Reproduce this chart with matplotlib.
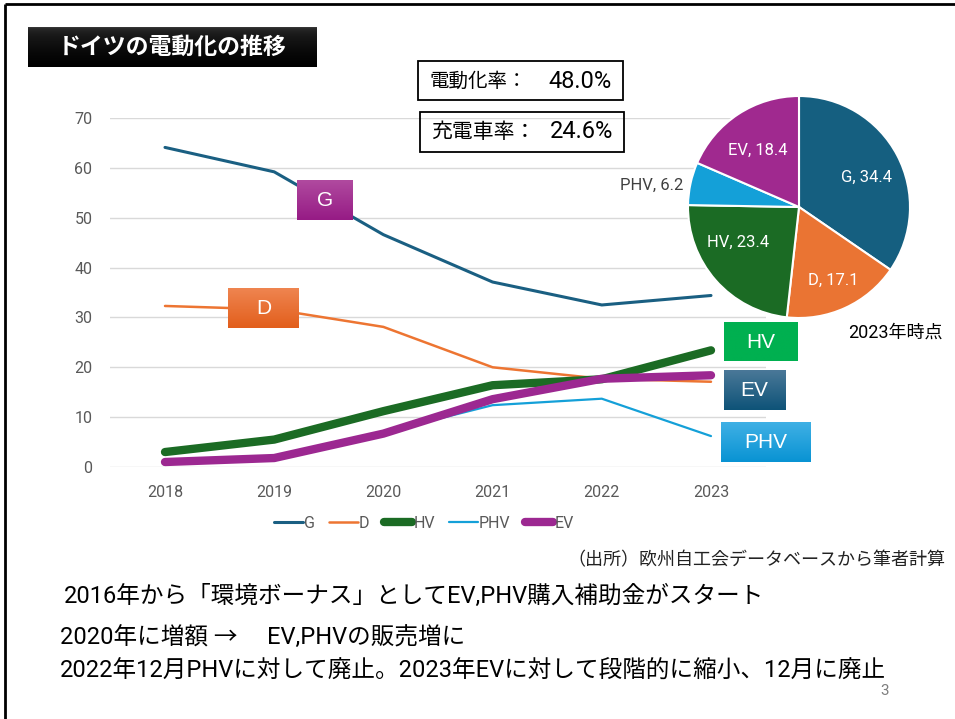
import matplotlib
matplotlib.use("Agg")
import matplotlib.pyplot as plt
import numpy as np
from matplotlib.colors import to_rgb
from matplotlib.patches import Rectangle

# ---------------- data ----------------
years = [2018, 2019, 2020, 2021, 2022, 2023]
series_names = ["G", "D", "HV", "PHV", "EV"]
g_vals = [64.1, 59.2, 46.6, 37.1, 32.5, 34.4]
d_vals = [32.3, 31.6, 28.1, 20.0, 17.7, 17.1]
hv_vals = [3.0, 5.5, 11.2, 16.4, 17.6, 23.4]
phv_vals = [0.9, 1.3, 6.9, 12.4, 13.7, 6.2]
ev_vals = [1.0, 1.8, 6.7, 13.6, 17.7, 18.4]

pie_labels = ["G", "D", "HV", "PHV", "EV"]
pie_vals = [34.4, 17.1, 23.4, 6.2, 18.4]

yticks = [0, 10, 20, 30, 40, 50, 60, 70]

title = "ドイツの電動化の推移"
rate1_label, rate1_val = "電動化率：", "48.0%"
rate2_label, rate2_val = "充電車率：", "24.6%"
pie_note = "2023年時点"
source = "（出所）欧州自工会データベースから筆者計算"
notes = ["2016年から「環境ボーナス」としてEV,PHV購入補助金がスタート",
         "2020年に増額 →　 EV,PHVの販売増に",
         "2022年12月PHVに対して廃止。2023年EVに対して段階的に縮小、12月に廃止"]
page_no = "3"

# ---------------- style ----------------
line_colors = ["#1a5f82", "#ed7532", "#1b6b24", "#14a0d8", "#9c2891"]
line_widths = [2.2, 1.8, 6.0, 1.6, 6.0]
pie_colors = ["#155f80", "#ea7433", "#1b6b24", "#14a0d8", "#a0298f"]

JP = ["Noto Sans CJK JP", "DejaVu Sans"]
LAT = ["Roboto", "Noto Sans CJK JP", "DejaVu Sans"]
plt.rcParams["font.family"] = LAT

W, H = 955, 719
fig = plt.figure(figsize=(W / 100, H / 100), dpi=100)
fig.patch.set_facecolor("white")

def fx(px):
    return px / W

def fy(py):
    return 1 - py / H

# ---------------- line chart ----------------
ax = fig.add_axes([fx(110.4), fy(467), fx(765.6) - fx(110.4), fy(118) - fy(467)])
all_vals = [g_vals, d_vals, hv_vals, phv_vals, ev_vals]
for name, vals, c, lw in zip(series_names, all_vals, line_colors, line_widths):
    ax.plot(years, vals, color=c, lw=lw, label=name, solid_capstyle="round",
            solid_joinstyle="round")
ax.set_xlim(2017.5, 2023.5)
ax.set_ylim(0, 70)
ax.set_xticks(years)
ax.set_yticks(yticks)
ax.grid(axis="y", color="#d9d9d9", lw=1.0)
ax.set_axisbelow(True)
for s in ax.spines.values():
    s.set_visible(False)
ax.tick_params(axis="both", length=0, labelsize=11.5, labelcolor="#595959")
ax.tick_params(axis="x", pad=13)
ax.tick_params(axis="y", pad=13)

leg = fig.legend(loc="center", bbox_to_anchor=(fx(424), fy(523)), ncol=5,
                 frameon=False, fontsize=11.5, handlelength=1.8,
                 handletextpad=0.05, columnspacing=0.9)
for t in leg.get_texts():
    t.set_color("#595959")

# ---------------- pie ----------------
R = 111
cx, cy = 799, 207
pax = fig.add_axes([fx(cx - R), fy(cy + R), fx(2 * R), fy(0) - fy(2 * R)])
wedges, texts = pax.pie(pie_vals, colors=pie_colors, startangle=90, counterclock=False,
                        labels=[f"{l}, {v}" for l, v in zip(pie_labels, pie_vals)],
                        labeldistance=0.65,
                        wedgeprops=dict(edgecolor="white", linewidth=1.5),
                        textprops=dict(fontsize=12, color="white"))
pax.set_xlim(-1, 1)
pax.set_ylim(-1, 1)
pax.set_aspect("equal")
pax.axis("off")
label_pos = {"G": (67, -30), "D": (34, 73), "HV": (-61, 35), "PHV": (-116, -22), "EV": (-41, -57)}
for t, l in zip(texts, pie_labels):
    dx, dy = label_pos[l]
    t.set_position((dx / R, -dy / R))
    t.set_ha("center")
    t.set_va("center")
    if l == "PHV":
        t.set_ha("right")
        t.set_color("#404040")

# ---------------- overlay (pixel coords) ----------------
ov = fig.add_axes([0, 0, 1, 1])
ov.set_zorder(10)
ov.patch.set_alpha(0)
ov.axis("off")

def grad_box(x0, x1, y0, y1, top, bottom, power=1.0):
    n = 64
    t = np.linspace(0, 1, n) ** power
    a = np.array(to_rgb(top))
    b = np.array(to_rgb(bottom))
    img = (a[None, :] * (1 - t[:, None]) + b[None, :] * t[:, None])[:, None, :]
    ov.imshow(img, extent=(x0, x1, y1, y0), origin="upper", aspect="auto",
              interpolation="bilinear", zorder=2)

# slide border (top and left)
ov.plot([5, W], [4, 4], color="black", lw=2.0, solid_capstyle="butt", zorder=1)
ov.plot([5, 5], [4, H], color="black", lw=2.0, solid_capstyle="butt", zorder=1)

# title bar
grad_box(28, 316, 27, 67, "#3c3c3c", "#000000", power=0.35)
ov.text(172, 47, title, color="white", fontsize=16.5, fontweight="bold",
        family=JP, ha="center", va="center", zorder=3)

# rate boxes
ov.add_patch(Rectangle((418, 61), 205, 39, fill=False, ec="black", lw=1.3, zorder=3))
ov.add_patch(Rectangle((420, 112), 204, 40, fill=False, ec="black", lw=1.3, zorder=3))
ov.text(429, 81, rate1_label, fontsize=14, family=JP, ha="left", va="center", zorder=4)
ov.text(612, 81, rate1_val, fontsize=17, family=LAT, ha="right", va="center", zorder=4)
ov.text(431, 132, rate2_label, fontsize=15, family=JP, ha="left", va="center", zorder=4)
ov.text(613, 132, rate2_val, fontsize=17, family=LAT, ha="right", va="center", zorder=4)

# series label boxes
boxes = [
    ("G", 297, 353, 180, 220, "#b04a9f", "#961b85"),
    ("D", 228, 299, 288, 328, "#ef8550", "#e25e1c"),
    ("HV", 724, 797, 322, 361, "#00b050", "#00b050"),
    ("EV", 724, 785, 370, 410, "#4a7898", "#0e5378"),
    ("PHV", 721, 810, 422, 462, "#3fb0e5", "#0993d3"),
]
for lab, x0, x1, y0, y1, c0, c1 in boxes:
    grad_box(x0, x1, y0, y1, c0, c1)
    ov.text((x0 + x1) / 2, (y0 + y1) / 2 + 1, lab, color="white", fontsize=15,
            family=["Liberation Sans", "DejaVu Sans"], ha="center", va="center", zorder=4)

# texts
ov.text(848, 333, pie_note, fontsize=13, family=LAT, ha="left", va="center", zorder=4)
ov.text(945, 560, source, fontsize=13, family=JP, ha="right", va="center",
        color="#222222", zorder=4)
ov.text(64, 596, notes[0], fontsize=17, family=LAT, ha="left", va="center", zorder=4)
ov.text(60, 637, notes[1], fontsize=17, family=LAT, ha="left", va="center", zorder=4)
ov.text(60, 671, notes[2], fontsize=17, family=LAT, ha="left", va="center", zorder=4)
ov.text(885, 691, page_no, fontsize=11, color="#7f7f7f", ha="center", va="center", zorder=4)

ov.set_xlim(0, W)
ov.set_ylim(H, 0)

fig.savefig("out.png", dpi=100, facecolor="white")
